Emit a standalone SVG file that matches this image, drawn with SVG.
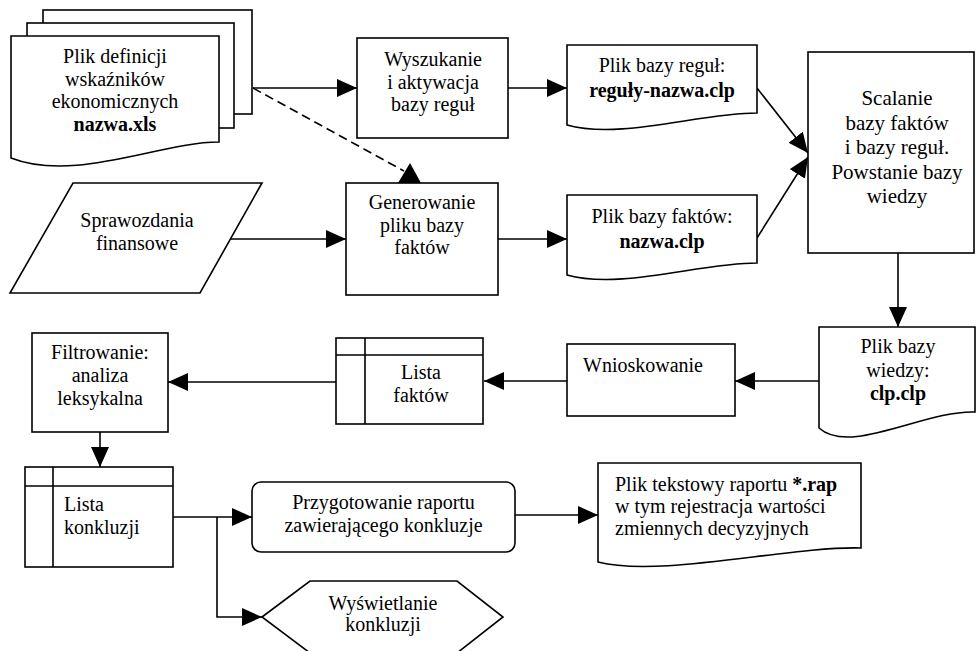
<svg xmlns="http://www.w3.org/2000/svg" width="976" height="651" viewBox="0 0 976 651">
  <style>
    .shape { fill: #fff; stroke: #000; stroke-width: 1.6; }
    .line { fill: none; stroke: #000; stroke-width: 1.6; }
    .arrow { marker-end: url(#head); }
    .dash { stroke-dasharray: 9 5; }
    text { font-family: 'Liberation Serif', 'Times New Roman', serif; font-size: 20px; fill: #000; }
    .c { text-anchor: middle; }
    .b { font-weight: bold; }
    .big { font-size: 21px; }
  </style>
  <defs>
    <marker id="head" viewBox="0 0 20 18" markerUnits="userSpaceOnUse" markerWidth="20" markerHeight="18" refX="20" refY="9" orient="auto">
      <path d="M0,0 L20,9 L0,18 Z" fill="#000"/>
    </marker>
  </defs>

  <!-- connectors -->
  <g id="connectors">
    <path class="line arrow" d="M253,88 H357"/>
    <path class="line dash" d="M253,88 L404,171"/>
    <polygon points="398,183 421,183 410,163" fill="#000"/>
    <path class="line arrow" d="M508,88 H567"/>
    <path class="line arrow" d="M230,239 H346"/>
    <path class="line arrow" d="M498,239 H567"/>
    <path class="line arrow" d="M757,88 L808,153"/>
    <path class="line arrow" d="M757,238 L808,157"/>
    <path class="line arrow" d="M898,253 V327"/>
    <path class="line arrow" d="M819,381 H735"/>
    <path class="line arrow" d="M567,381 H484"/>
    <path class="line arrow" d="M336,382 H168"/>
    <path class="line arrow" d="M100,432 V467"/>
    <path class="line arrow" d="M173,517 H252"/>
    <path class="line arrow" d="M217,517 V617 H262"/>
    <path class="line arrow" d="M515,515 H598"/>
  </g>

  <!-- stacked definition files -->
  <g id="plik-definicji">
    <rect class="shape" x="43" y="10" width="209" height="104"/>
    <rect class="shape" x="27" y="23" width="207" height="105"/>
    <path class="shape" d="M11,36 H219 V142 C160,142 75,183 11,158 Z"/>
    <text class="c" x="115" y="63">Plik definicji</text>
    <text class="c" x="115" y="85.5">wskaźników</text>
    <text class="c" x="115" y="108">ekonomicznych</text>
    <text class="c b" x="115" y="130.5">nazwa.xls</text>
  </g>

  <g id="wyszukanie">
    <rect class="shape" x="357" y="38" width="151" height="100"/>
    <text class="c" x="433" y="66">Wyszukanie</text>
    <text class="c" x="433" y="88.5">i aktywacja</text>
    <text class="c" x="433" y="111">bazy reguł</text>
  </g>

  <g id="plik-bazy-regul">
    <path class="shape" d="M567,45 H757 V113 C700,113 620,140 567,125 Z"/>
    <text class="c" x="662" y="72">Plik bazy reguł:</text>
    <text class="c b" x="662" y="96.5">reguły-nazwa.clp</text>
  </g>

  <g id="sprawozdania">
    <polygon class="shape" points="73,183 262,183 200,293 10,293"/>
    <text class="c" x="137" y="227">Sprawozdania</text>
    <text class="c" x="137" y="250">finansowe</text>
  </g>

  <g id="generowanie">
    <rect class="shape" x="346" y="183" width="152" height="112"/>
    <text class="c" x="422" y="209">Generowanie</text>
    <text class="c" x="422" y="231.5">pliku bazy</text>
    <text class="c" x="422" y="254">faktów</text>
  </g>

  <g id="plik-bazy-faktow">
    <path class="shape" d="M567,195 H757 V263 C700,263 620,290 567,275 Z"/>
    <text class="c" x="662" y="223">Plik bazy faktów:</text>
    <text class="c b" x="662" y="247.5">nazwa.clp</text>
  </g>

  <g id="scalanie">
    <rect class="shape" x="808" y="52" width="166" height="201"/>
    <text class="c big" x="897" y="105">Scalanie</text>
    <text class="c big" x="897" y="129.5">bazy faktów</text>
    <text class="c big" x="897" y="154">i bazy reguł.</text>
    <text class="c big" x="897" y="178.5">Powstanie bazy</text>
    <text class="c big" x="897" y="203">wiedzy</text>
  </g>

  <g id="plik-bazy-wiedzy">
    <path class="shape" d="M819,327 H975 V412 C925,410 850,456 819,428 Z"/>
    <text class="c" x="898" y="353">Plik bazy</text>
    <text class="c" x="898" y="377">wiedzy:</text>
    <text class="c b" x="898" y="400">clp.clp</text>
  </g>

  <g id="wnioskowanie">
    <rect class="shape" x="567" y="344" width="168" height="72"/>
    <text class="c" x="643" y="372">Wnioskowanie</text>
  </g>

  <g id="lista-faktow">
    <rect class="shape" x="336" y="338" width="147" height="86"/>
    <path class="line" d="M336,355 H483 M365,338 V424"/>
    <text class="c" x="421" y="379">Lista</text>
    <text class="c" x="421" y="402">faktów</text>
  </g>

  <g id="filtrowanie">
    <rect class="shape" x="32" y="333" width="136" height="99"/>
    <text class="c" x="100" y="359">Filtrowanie:</text>
    <text class="c" x="100" y="382">analiza</text>
    <text class="c" x="100" y="405">leksykalna</text>
  </g>

  <g id="lista-konkluzji">
    <rect class="shape" x="25" y="467" width="148" height="100"/>
    <path class="line" d="M25,486 H173 M53,467 V567"/>
    <text x="64" y="511">Lista</text>
    <text x="64" y="534">konkluzji</text>
  </g>

  <g id="przygotowanie">
    <rect class="shape" x="252" y="482" width="263" height="70" rx="9" ry="9"/>
    <text class="c" x="383.5" y="509">Przygotowanie raportu</text>
    <text class="c" x="383.5" y="532">zawierającego konkluzje</text>
  </g>

  <g id="plik-tekstowy">
    <path class="shape" d="M598,463 H861 V548 C790,546 660,578 598,562 Z"/>
    <text x="615" y="491">Plik tekstowy raportu <tspan class="b">*.rap</tspan></text>
    <text x="615" y="513">w tym rejestracja wartości</text>
    <text x="615" y="535">zmiennych decyzyjnych</text>
  </g>

  <g id="wyswietlanie">
    <polygon class="shape" points="262,617 310,581 457,581 503,617 457,653 310,653"/>
    <text class="c" x="383" y="610">Wyświetlanie</text>
    <text class="c" x="383" y="631">konkluzji</text>
  </g>
</svg>
